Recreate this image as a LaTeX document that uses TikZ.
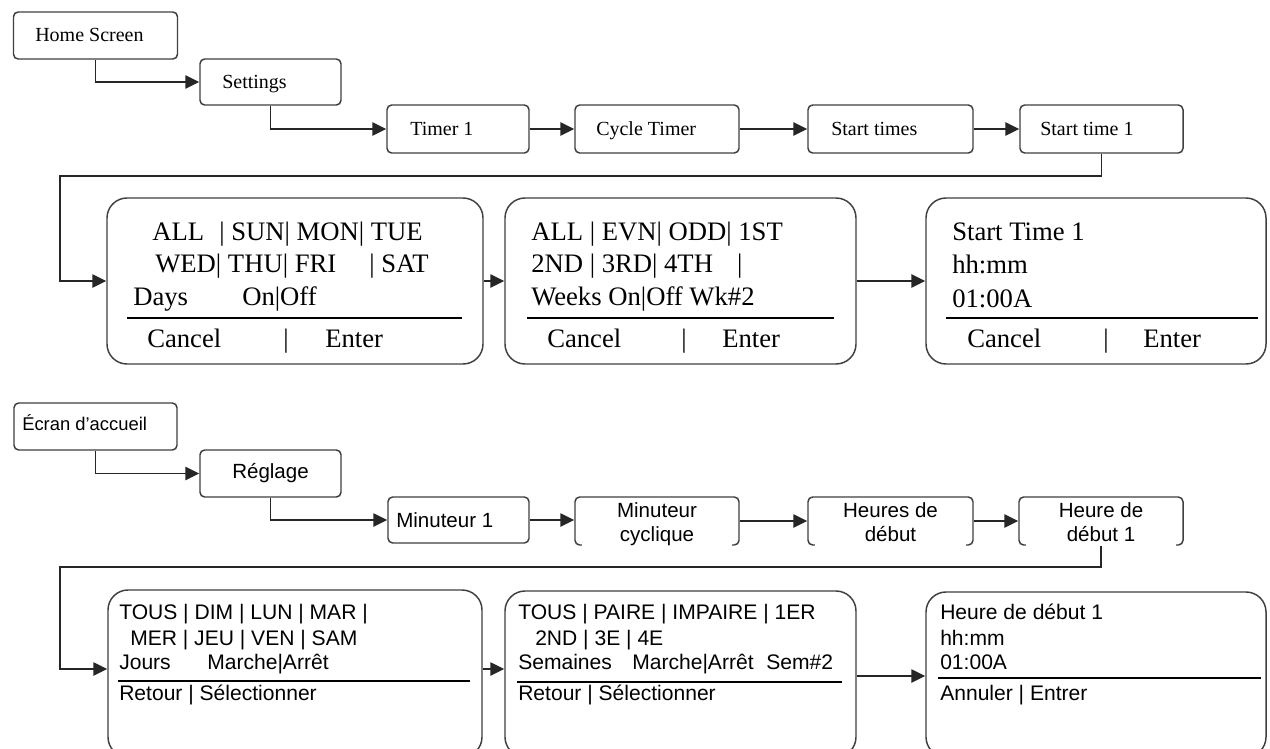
\documentclass[tikz,border=0pt]{standalone}
\usepackage{fontspec}
\setmainfont{Liberation Serif}
\newfontfamily\arialf{Liberation Sans}
\usetikzlibrary{arrows.meta,fit}
\begin{document}
\begin{tikzpicture}[x=0.75pt,y=-0.75pt,
  sbox/.style={draw=black!75, line width=1.1pt, rounded corners=3.5pt, inner sep=0pt},
  bbox/.style={draw=black!75, line width=1.1pt, rounded corners=15pt, inner sep=0pt},
  conn/.style={draw=black!85, line width=1.1pt, -{Triangle[length=10.5pt,width=10pt]}},
  esep/.style={draw=black, line width=2.2pt},
  fsep/.style={draw=black, line width=1.5pt},
  es/.style={anchor=base west, inner sep=0pt, font=\fontsize{15}{18}\selectfont},
  eb/.style={anchor=base west, inner sep=0pt, font=\fontsize{20}{24}\selectfont},
  fsl/.style={anchor=base west, inner sep=0pt, font=\arialf\fontsize{15.4}{18}\selectfont},
  fsc/.style={anchor=base, inner sep=0pt, font=\arialf\fontsize{15.4}{18}\selectfont},
  fb/.style={anchor=base west, inner sep=0pt, font=\arialf\fontsize{15.8}{18}\selectfont},
]
\useasboundingbox (0,0) rectangle (1270,749);
\clip (0,0) rectangle (1270,749);
\fill[white] (0,0) rectangle (1270,749);

% ---------------- English ----------------
\node[sbox, fit={(13.5,12) (177.5,59)}] (home) {};
\node[es] (homet) at (35,42) {Home Screen};
\node[sbox, fit={(200,59) (341,105)}] (settings) {};
\node[es] (settingst) at (222,88.5) {Settings};
\node[sbox, fit={(387,105) (529,153)}] (timer) {};
\node[es] (timert) at (410,135.5) {Timer 1};
\node[sbox, fit={(575,105) (739,153)}] (cycle) {};
\node[es] (cyclet) at (596,135.5) {Cycle Timer};
\node[sbox, fit={(808,105) (973,153)}] (starts) {};
\node[es] (startst) at (831,135.5) {Start times};
\node[sbox, fit={(1020,105) (1183,153)}] (start1) {};
\node[es] (start1t) at (1040,135.5) {Start time 1};

\node[bbox, fit={(107,198) (483,364)}] (box1) {};
\node[bbox, fit={(505,198) (856,364)}] (box2) {};
\node[bbox, fit={(926,198) (1266,364)}] (box3) {};

\node[eb] (b1a) at (152,240) {ALL};
\node[eb] (b1b) at (219,240) {| SUN| MON| TUE};
\node[eb] (b1c) at (155,272.5) {WED| THU| FRI};
\node[eb] (b1d) at (369,272.5) {| SAT};
\node[eb] (b1e) at (133,305) {Days};
\node[eb] (b1f) at (242,305) {On|Off};
\draw[esep] (127,318) -- (462,318);
\node[eb] (b1g) at (147,347) {Cancel};
\node[eb] (b1h) at (283,347) {|};
\node[eb] (b1i) at (325,347) {Enter};

\node[eb] (b2a) at (531,240) {ALL | EVN| ODD| 1ST};
\node[eb] (b2b) at (531,272.5) {2ND | 3RD| 4TH\hspace{0.9em}|};
\node[eb] (b2c) at (531,305) {Weeks On|Off Wk\#2};
\draw[esep] (527,318) -- (834,318);
\node[eb] (b2d) at (547,347) {Cancel};
\node[eb] (b2e) at (681,347) {|};
\node[eb] (b2f) at (722,347) {Enter};

\node[eb] (b3a) at (952,240) {Start Time 1};
\node[eb] (b3b) at (952,273) {hh:mm};
\node[eb] (b3c) at (952,307) {01:00A};
\draw[esep] (946,318) -- (1258,318);
\node[eb] (b3d) at (967,347) {Cancel};
\node[eb] (b3e) at (1103,347) {|};
\node[eb] (b3f) at (1143,347) {Enter};

\coordinate (e1) at (60,176);
\draw[conn] (home.south) |- (settings.west);
\draw[conn] (settings.south) |- (timer.west);
\draw[conn] (timer.east) -- (cycle.west);
\draw[conn] (cycle.east) -- (starts.west);
\draw[conn] (starts.east) -- (start1.west);
\draw[conn] (start1.south) |- (e1) |- (box1.west);
\draw[conn] (box1.east) -- (box2.west);
\draw[conn] (box2.east) -- (box3.west);

% ---------------- French ----------------
\node[sbox, fit={(14,403) (177,450)}] (ecran) {};
\node[anchor=base west, inner sep=0pt, font=\arialf\fontsize{13.8}{16}\selectfont] (ecrant) at (22,430) {Écran d’accueil};
\node[sbox, fit={(200,450) (341,497)}] (reglage) {};
\node[fsc] (reglaget) at (270.5,478) {Réglage};
\node[sbox, fit={(388,497) (529,543)}] (minut1) {};
\node[fsl] (minut1t) at (396,527) {Minuteur 1};
\node[sbox, fit={(575,497) (739,545)}] (mcyc) {};
\node[sbox, fit={(808,497) (973,545)}] (hdeb) {};
\node[sbox, fit={(1019,497) (1183,545)}] (hdeb1) {};
\fill[white] (582,541) rectangle (732,549);
\fill[white] (815,541) rectangle (966,549);
\fill[white] (1026,541) rectangle (1176,549);
\node[fsc] (mcyca) at (657,517) {Minuteur};
\node[fsc] (mcycb) at (657,541) {cyclique};
\node[fsc] (hdeba) at (890.5,517) {Heures de};
\node[fsc] (hdebb) at (890.5,541) {début};
\node[fsc] (hdeb1a) at (1101,517) {Heure de};
\node[fsc] (hdeb1b) at (1101,541) {début 1};

\node[bbox, fit={(108,590) (482,757)}] (fbox1) {};
\node[bbox, fit={(505,591) (856,757)}] (fbox2) {};
\node[bbox, fit={(926,592) (1266,757)}] (fbox3) {};

\node[fb] (f1a) at (119,619) {TOUS | DIM | LUN | MAR |};
\node[fb] (f1b) at (130,645) {MER | JEU | VEN | SAM};
\node[fb] (f1c) at (119,669) {Jours};
\node[fb] (f1d) at (207,669) {Marche|Arrêt};
\draw[fsep] (118,681) -- (470,681);
\node[fb] (f1e) at (119,700) {Retour | Sélectionner};

\node[fb] (f2a) at (518,619) {TOUS | PAIRE | IMPAIRE | 1ER};
\node[fb] (f2b) at (535,645) {2ND | 3E | 4E};
\node[fb] (f2c) at (518,669) {Semaines};
\node[fb] (f2d) at (632,669) {Marche|Arrêt\hspace{0.6em}Sem\#2};
\draw[fsep] (517,682) -- (842,682);
\node[fb] (f2e) at (518,700) {Retour | Sélectionner};

\node[fb] (f3a) at (940,619) {Heure de début 1};
\node[fb] (f3b) at (940,645) {hh:mm};
\node[fb] (f3c) at (940,669) {01:00A};
\draw[fsep] (938,678) -- (1261,678);
\node[fb] (f3d) at (940,700) {Annuler | Entrer};

\coordinate (g1) at (60,567);
\coordinate (g2) at (60,669);
\coordinate (g3) at (0,676);
\draw[conn] (ecran.south) |- (reglage.west);
\draw[conn] (reglage.south) |- (minut1.west);
\draw[conn] (minut1.east) -- (mcyc.west |- minut1.east);
\draw[conn] (mcyc.east) -- (hdeb.west);
\draw[conn] (hdeb.east) -- (hdeb1.west);
\draw[conn] (hdeb1.south) |- (g1) -- (g2) -- (g2 -| fbox1.west);
\draw[conn] (fbox1.east |- g2) -- (fbox2.west |- g2);
\draw[conn] (fbox2.east |- g3) -- (fbox3.west |- g3);
\end{tikzpicture}
\end{document}
